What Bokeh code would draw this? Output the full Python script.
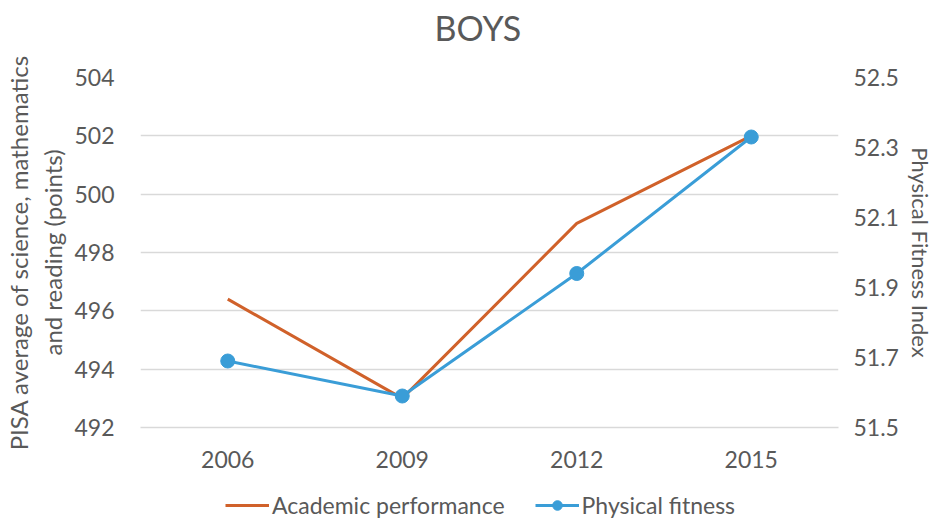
from bokeh.plotting import figure
from bokeh.layouts import column
from bokeh.models import (Range1d, LinearAxis, FixedTicker, Legend, LegendItem,
                          CustomJSTickFormatter, Title)
from bokeh.embed import file_html
from bokeh.resources import INLINE

years = ["2006", "2009", "2012", "2015"]
academic = [496.4, 493.0, 499.0, 502.0]
fitness = [51.69, 51.59, 51.94, 52.33]
left_ticks = [492, 494, 496, 498, 500, 502, 504]
right_ticks = [51.5, 51.7, 51.9, 52.1, 52.3, 52.5]
series_names = ["Academic performance", "Physical fitness"]

FONT = "Lato"
TXT = "#595959"
ORANGE = "#D0612A"
BLUE = "#3A9DD7"
GRID = "#D9D9D9"

p = figure(x_range=years, y_range=Range1d(492, 504), frame_width=698, frame_height=350,
           output_backend="svg", toolbar_location=None,
           min_border_left=137, min_border_right=97, min_border_top=77, min_border_bottom=52)
p.title = None
p.outline_line_color = None
p.extra_y_ranges = {"right": Range1d(51.5, 52.5)}

spacer = Title(text=" ", text_font=FONT, text_font_size="20px", standoff=4)
p.add_layout(spacer, "above")
p.add_layout(Title(text="BOYS", align="left", text_font=FONT, text_font_size="34px",
                   text_color=TXT, text_font_style="normal", offset=294, standoff=0),
             "above")

p.line(years, academic, line_color=ORANGE, line_width=3)
p.line(years, fitness, line_color=BLUE, line_width=3, y_range_name="right")
p.scatter(years, fitness, size=14, fill_color=BLUE, line_color=BLUE, y_range_name="right")

p.xgrid.grid_line_color = None
p.ygrid.grid_line_color = GRID
p.ygrid.grid_line_width = 1.5
p.yaxis.ticker = FixedTicker(ticks=left_ticks)

for ax in [p.xaxis[0], p.yaxis[0]]:
    ax.major_tick_line_color = None
    ax.minor_tick_line_color = None
    ax.major_label_text_font = FONT
    ax.major_label_text_font_size = "23px"
    ax.major_label_text_color = TXT
    ax.axis_label_text_font = FONT
    ax.axis_label_text_font_style = "normal"
    ax.axis_label_text_color = TXT

p.xaxis.axis_line_color = GRID
p.xaxis.axis_line_width = 1.5
p.xaxis.major_label_standoff = 17
p.yaxis.axis_line_color = None
p.yaxis.major_label_standoff = 20
p.yaxis.axis_label = "PISA average of science, mathematics\nand reading (points)"
p.yaxis.axis_label_text_font_size = "24px"
p.yaxis.axis_label_standoff = 4

ry = LinearAxis(y_range_name="right", ticker=FixedTicker(ticks=right_ticks),
                axis_label="Physical Fitness Index")
ry.formatter = CustomJSTickFormatter(code="return tick.toFixed(1);")
ry.axis_line_color = None
ry.major_tick_line_color = None
ry.minor_tick_line_color = None
ry.major_label_text_font = FONT
ry.major_label_text_font_size = "23px"
ry.major_label_text_color = TXT
ry.major_label_standoff = 9
ry.axis_label_text_font = FONT
ry.axis_label_text_font_size = "22px"
ry.axis_label_text_font_style = "normal"
ry.axis_label_text_color = TXT
ry.axis_label_standoff = 5
p.add_layout(ry, "right")

# legend strip below the chart: same series, kept out of this strip's view range
lf = figure(frame_width=935, frame_height=40, x_range=years, y_range=Range1d(0, 1),
            output_backend="svg", toolbar_location=None, min_border=0)
lf.axis.visible = False
lf.grid.grid_line_color = None
lf.outline_line_color = None
la = lf.line(years, academic, line_color=ORANGE, line_width=3)
lb = lf.line(years, academic, line_color=BLUE, line_width=3)
lc = lf.scatter(years, academic, size=11, fill_color=BLUE, line_color=BLUE)
legend = Legend(items=[LegendItem(label=series_names[0], renderers=[la]),
                       LegendItem(label=series_names[1], renderers=[lb, lc])],
                orientation="horizontal", location=(225, 0),
                label_text_font=FONT, label_text_font_size="23px", label_text_color=TXT,
                border_line_color=None, background_fill_alpha=0,
                glyph_width=44, glyph_height=24, label_height=24,
                spacing=30, padding=0, margin=0, label_standoff=3)
lf.add_layout(legend, "center")

open("out.html", "w").write(file_html(column(p, lf, spacing=0), INLINE))
